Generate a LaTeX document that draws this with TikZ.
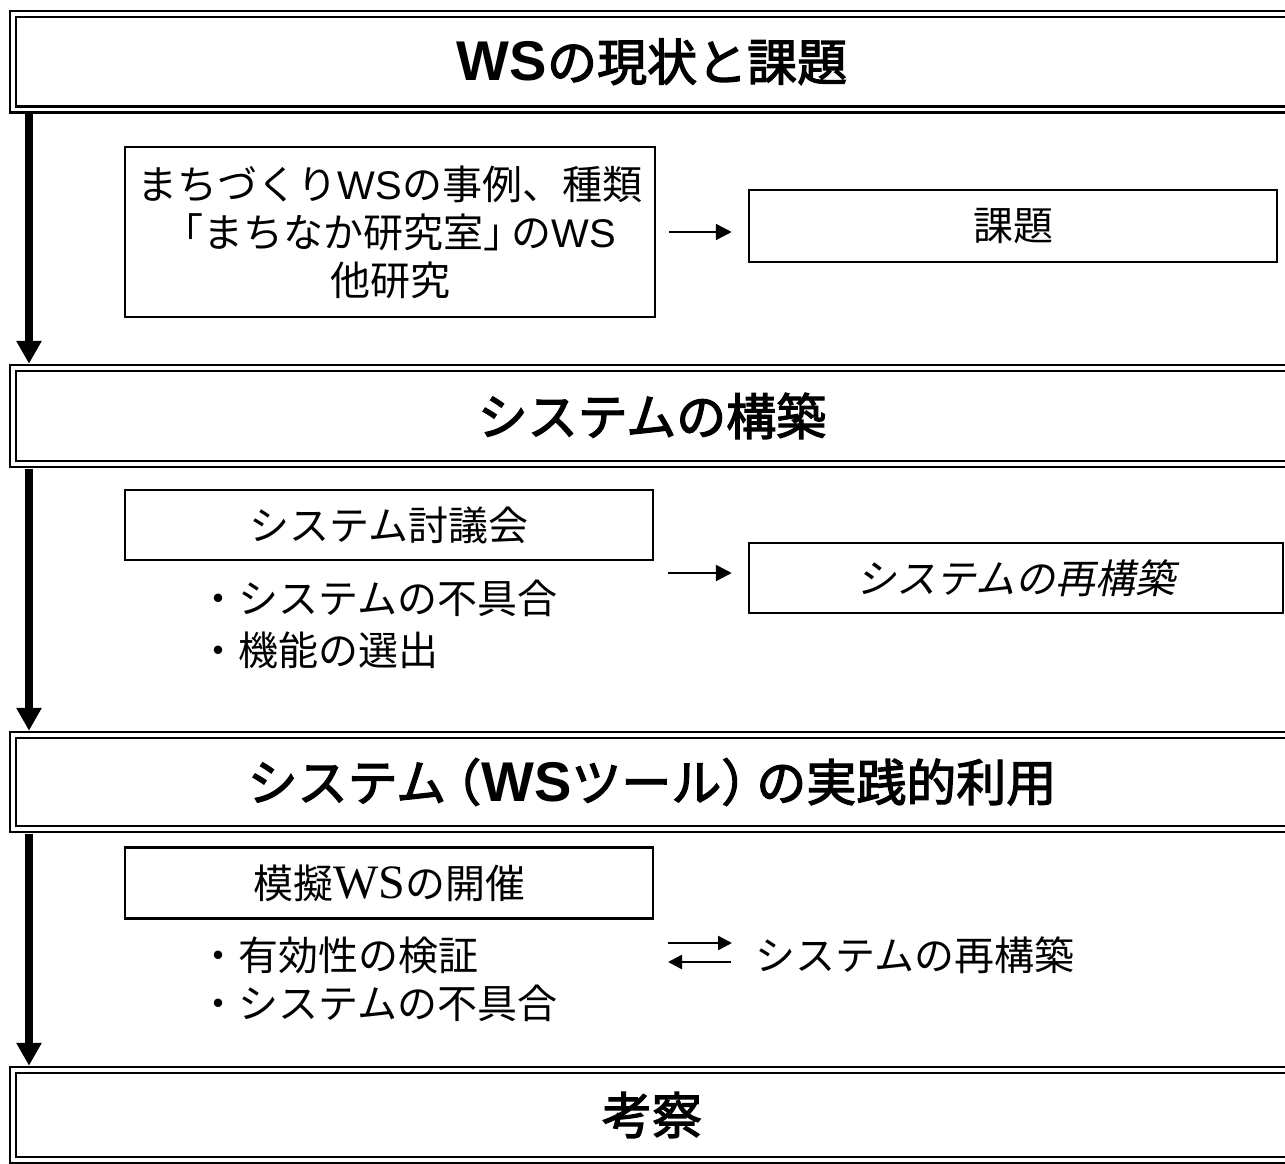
\documentclass[tikz,border=0pt]{standalone}
\usepackage{fontspec}
\usetikzlibrary{arrows.meta}
\newfontfamily\jp{Noto Sans CJK JP}
\newfontfamily\jpb{Noto Sans CJK JP}[FakeBold=2.5]
\newfontfamily\jpit{Noto Sans CJK JP}[FakeSlant=0.2]
\newfontfamily\lat{Liberation Sans}
\newfontfamily\hlat{Liberation Sans}[Scale=1.12]
\newfontfamily\latser{Liberation Serif}[Scale=1.2]
\newcommand\hws{{\hlat\bfseries WS}}
\tikzset{
  head/.style={draw, line width=2.5pt, double=white, double distance=3.5pt,
    minimum width=1278pt, inner sep=0pt,
    font=\jpb\fontsize{50}{60}\selectfont},
  box/.style={draw, line width=2.5pt, inner sep=0pt, align=center,
    font=\jp\fontsize{40}{48}\selectfont},
  plain/.style={inner sep=0pt, font=\jp\fontsize{40}{48}\selectfont},
  arr/.style={line width=2.5pt, -{Triangle[length=16pt,width=16pt]}},
  sarr/.style={line width=2.5pt, -{Triangle[length=14pt,width=14pt]}},
  varr/.style={line width=8pt, -{Triangle[length=23pt,width=24pt]}},
}
\begin{document}
\begin{tikzpicture}[x=1pt,y=-1pt]
\useasboundingbox (0,0) rectangle (1285,1164);

% header boxes
\node[head, minimum height=95.5pt] (h1) at (652,61.75) {\hws の現状と課題};
\node[head, minimum height=96pt] (h2) at (652,416) {システムの構築};
\node[head, minimum height=94pt] (h3) at (652,782) {システム\kern-0.3em（\hws ツール）\kern-0.3em の実践的利用};
\node[head, minimum height=90pt] (h4) at (652,1115) {考察};

% vertical flow arrows
\coordinate (vx) at (29,0);
\draw[varr, shorten <=3.5pt, shorten >=3pt] (h1.south -| vx) -- (h2.north -| vx);
\draw[varr, shorten <=3.5pt, shorten >=3pt] (h2.south -| vx) -- (h3.north -| vx);
\draw[varr, shorten <=3.5pt, shorten >=3pt] (h3.south -| vx) -- (h4.north -| vx);

% section 1
\node[box, minimum width=530pt, minimum height=170pt] (b1) at (390,232)
  {まちづくり{\lat WS}の事例、種類\\「まちなか研究室」\kern-0.3em の{\lat WS}\\他研究};
\node[box, minimum width=528pt, minimum height=72pt] (k1) at (1013,226) {課題};
\draw[arr, shorten <=13pt, shorten >=16pt] (b1.east) -- (b1.east -| k1.west);

% section 2
\node[box, minimum width=528pt, minimum height=70pt] (b2) at (389,525) {システム討議会};
\node[box, minimum width=534pt, minimum height=70pt, font=\jpit\fontsize{40}{48}\selectfont] (k2) at (1016,578) {システムの再構築};
\coordinate (a2) at (655,573);
\draw[arr, shorten <=13pt, shorten >=16pt] (a2) -- (a2 -| k2.west);
\node[plain, anchor=west] (p1) at (198,598) {・システムの不具合};
\node[plain, anchor=west] (p2) at (198,650) {・機能の選出};

% section 3
\node[box, minimum width=528pt, minimum height=71pt] (b3) at (389,883) {模擬{\latser WS}の開催};
\node[plain, anchor=west] (p3) at (198,955) {・有効性の検証};
\node[plain, anchor=west] (p4) at (198,1003) {・システムの不具合};
\node[plain] (r3) at (915,955) {システムの再構築};
\coordinate (dl) at (668,943);
\coordinate (dr) at (732,943);
\coordinate (el) at (668,962);
\coordinate (er) at (731,962);
\draw[sarr] (dl) -- (dr);
\draw[sarr] (er) -- (el);
\end{tikzpicture}
\end{document}
